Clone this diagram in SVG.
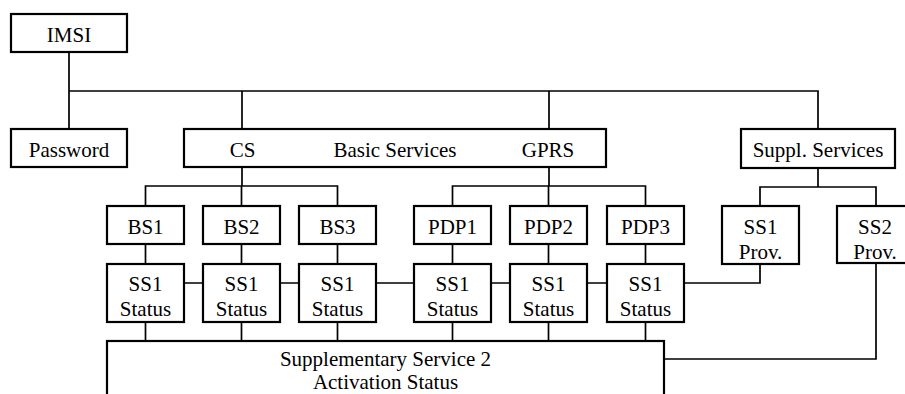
<svg xmlns="http://www.w3.org/2000/svg" width="905" height="394" viewBox="0 0 905 394">
<style>
.box{fill:#fff;stroke:#000;stroke-width:2.2}
.ln{fill:none;stroke:#000;stroke-width:1.7}
text{font-family:"Liberation Serif","Times New Roman",serif;font-size:21px;fill:#000;text-anchor:middle}
</style>
<rect width="905" height="394" fill="#fff"/>
<g id="connectors">
<path class="ln" d="M69 52V129M69 91H818V129M242 91V129M549 91V129"/>
<path class="ln" d="M242 167V186M145.5 206V186H337.5V206M241.5 186V206"/>
<path class="ln" d="M549 167V186M452.5 206V186H645.5V206M548.5 186V206"/>
<path class="ln" d="M818 168V187M760 206V187H876V206"/>
<path class="ln" d="M145.5 244V264M241.5 244V264M337.5 244V264M452.5 244V264M548.5 244V264M645.5 244V264"/>
<path class="ln" d="M184 283H203M280 283H299M376 283H414M491 283H510M587 283H607M684 283H760V264"/>
<path class="ln" d="M145.5 322V341M241.5 322V341M337.5 322V341M452.5 322V341M548.5 322V341M645.5 322V341"/>
<path class="ln" d="M876 263V359H664"/>
</g>
<g id="imsi"><rect class="box" x="11" y="14" width="116" height="38"/><text x="69" y="42">IMSI</text></g>
<g id="password"><rect class="box" x="11" y="129" width="116" height="38"/><text x="69" y="157">Password</text></g>
<g id="basic-services"><rect class="box" x="184" y="129" width="422" height="38"/><text x="242.5" y="157">CS</text><text x="395" y="157">Basic Services</text><text x="548" y="157">GPRS</text></g>
<g id="suppl-services"><rect class="box" x="741" y="129" width="154" height="39"/><text x="818" y="157">Suppl. Services</text></g>
<g id="bs1"><rect class="box" x="107" y="206" width="77" height="38"/><text x="145.5" y="234">BS1</text></g>
<g id="bs2"><rect class="box" x="203" y="206" width="77" height="38"/><text x="241.5" y="234">BS2</text></g>
<g id="bs3"><rect class="box" x="299" y="206" width="77" height="38"/><text x="337.5" y="234">BS3</text></g>
<g id="pdp1"><rect class="box" x="414" y="206" width="77" height="38"/><text x="452.5" y="234">PDP1</text></g>
<g id="pdp2"><rect class="box" x="510" y="206" width="77" height="38"/><text x="548.5" y="234">PDP2</text></g>
<g id="pdp3"><rect class="box" x="607" y="206" width="77" height="38"/><text x="645.5" y="234">PDP3</text></g>
<g id="ss1-prov"><rect class="box" x="722" y="206" width="77" height="58"/><text x="760.5" y="234">SS1</text><text x="760.5" y="259">Prov.</text></g>
<g id="ss2-prov"><rect class="box" x="837" y="206" width="77" height="57"/><text x="875" y="234">SS2</text><text x="875" y="259">Prov.</text></g>
<g id="ss1-status-1"><rect class="box" x="107" y="264" width="77" height="58"/><text x="145.5" y="291">SS1</text><text x="145.5" y="316">Status</text></g>
<g id="ss1-status-2"><rect class="box" x="203" y="264" width="77" height="58"/><text x="241.5" y="291">SS1</text><text x="241.5" y="316">Status</text></g>
<g id="ss1-status-3"><rect class="box" x="299" y="264" width="77" height="58"/><text x="337.5" y="291">SS1</text><text x="337.5" y="316">Status</text></g>
<g id="ss1-status-4"><rect class="box" x="414" y="264" width="77" height="58"/><text x="452.5" y="291">SS1</text><text x="452.5" y="316">Status</text></g>
<g id="ss1-status-5"><rect class="box" x="510" y="264" width="77" height="58"/><text x="548.5" y="291">SS1</text><text x="548.5" y="316">Status</text></g>
<g id="ss1-status-6"><rect class="box" x="607" y="264" width="77" height="58"/><text x="645.5" y="291">SS1</text><text x="645.5" y="316">Status</text></g>
<g id="ss2-activation"><rect class="box" x="107" y="341" width="557" height="100"/><text x="385.5" y="366">Supplementary Service 2</text><text x="385.5" y="389">Activation Status</text></g>
</svg>
